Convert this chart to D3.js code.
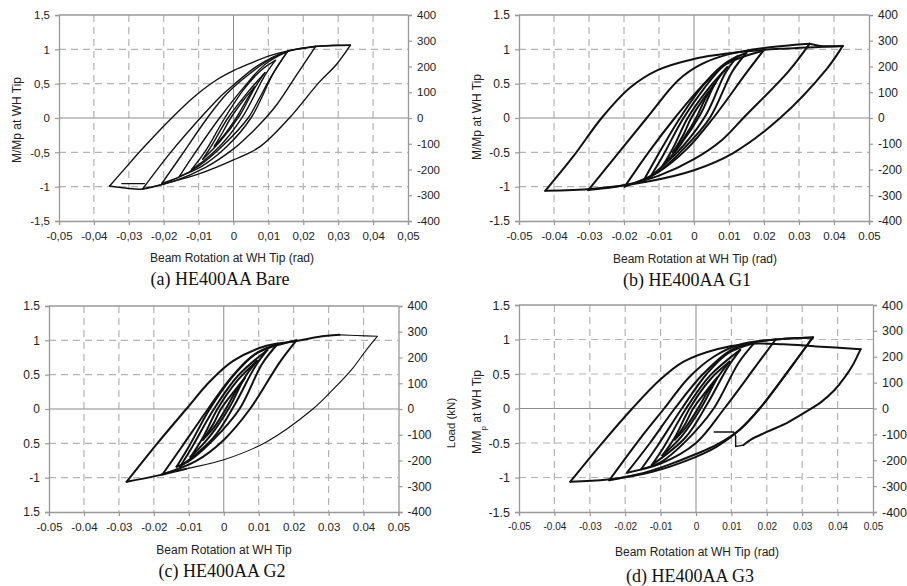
<!DOCTYPE html>
<html>
<head>
<meta charset="utf-8">
<script src="https://cdn.jsdelivr.net/npm/d3@7"></script>
<style>
body { margin: 0; background: #fff; }
text { font-family: "Liberation Sans", Arial, sans-serif; fill: #222; }
.caption { font-family: "Liberation Serif", "Times New Roman", serif; fill: #111; }
</style>
</head>
<body>
<script>

// tick values and labels
const xTicks = [-0.05, -0.04, -0.03, -0.02, -0.01, 0, 0.01, 0.02, 0.03, 0.04, 0.05];
const yTicks = [-1.5, -1, -0.5, 0, 0.5, 1, 1.5];
const loadTicks = [-400, -300, -200, -100, 0, 100, 200, 300, 400];
const xLabelsComma = ["-0,05", "-0,04", "-0,03", "-0,02", "-0,01", "0", "0,01", "0,02", "0,03", "0,04", "0,05"];
const xLabelsDot = ["-0.05", "-0.04", "-0.03", "-0.02", "-0.01", "0", "0.01", "0.02", "0.03", "0.04", "0.05"];
const yLabelsComma = ["-1,5", "-1", "-0,5", "0", "0,5", "1", "1,5"];
const yLabelsDot = ["-1.5", "-1", "-0.5", "0", "0.5", "1", "1.5"];
const yLabelsG2 = ["1.5", "-1", "0.5", "0", "0.5", "1", "1.5"];
const loadLabels = ["-400", "-300", "-200", "-100", "0", "100", "200", "300", "400"];

// hysteresis cycles: [beam rotation (rad), M/Mp]
const bareLoops = [
  [[0.006,0.45],[0.0035,0.24],[0.001,0.02],[-0.003,-0.27],[-0.0055,-0.41],[-0.003,-0.2],[-0.0008,0],[0.003,0.27],[0.006,0.45]],
  [[0.009,0.66],[0.006,0.43],[0.0018,0.04],[-0.004,-0.35],[-0.0088,-0.6],[-0.006,-0.38],[-0.0016,0],[0.004,0.37],[0.009,0.66]],
  [[0.012,0.84],[0.009,0.62],[0.003,0.05],[-0.003,-0.36],[-0.008,-0.6],[-0.012,-0.75],[-0.008,-0.48],[-0.0025,0],[0.003,0.42],[0.008,0.7],[0.012,0.84]],
  [[0.0155,0.97],[0.0115,0.66],[0.005,0],[-0.002,-0.42],[-0.009,-0.7],[-0.0155,-0.85],[-0.012,-0.58],[-0.004,0],[0.003,0.45],[0.009,0.78],[0.0155,0.97]],
  [[0.0155,0.97],[0.011,0.62],[0.0065,0.2],[0.0042,0],[-0.003,-0.4],[-0.01,-0.7],[-0.016,-0.87],[-0.0205,-0.95],[-0.015,-0.55],[-0.0075,0],[-0.002,0.35],[0.004,0.62],[0.011,0.87],[0.016,0.98],[0.0235,1.04]],
  [[0.0235,1.04],[0.018,0.62],[0.0125,0.2],[0.0092,0],[0.004,-0.27],[0,-0.45],[-0.008,-0.72],[-0.017,-0.92],[-0.026,-1.03],[-0.018,-0.5],[-0.0086,0.05],[-0.004,0.3],[0,0.48],[0.006,0.73],[0.011,0.88],[0.016,0.98],[0.0235,1.045]],
  [[0.0235,1.045],[0.0285,1.06],[0.0335,1.06],[0.0295,0.78],[0.0247,0.53],[0.016,0],[0.0075,-0.42],[0,-0.61],[-0.0097,-0.81],[-0.0193,-0.95],[-0.026,-1.035],[-0.031,-1.02],[-0.0355,-0.99],[-0.031,-0.73],[-0.0265,-0.47],[-0.0177,0],[-0.011,0.32],[-0.005,0.55],[0,0.69],[0.005,0.8],[0.01,0.9],[0.015,0.97],[0.0235,1.04],[0.0335,1.06]],
  [[-0.032,-0.955],[-0.0255,-0.955]]
];

const g1Loops = [
  [[0.006,0.5],[0.003,0.26],[0.0008,0.02],[-0.003,-0.3],[-0.006,-0.5],[-0.003,-0.24],[-0.0008,0],[0.003,0.3],[0.006,0.5]],
  [[0.0095,0.74],[0.006,0.5],[0.0018,0.05],[-0.004,-0.4],[-0.009,-0.7],[-0.006,-0.44],[-0.0018,0],[0.004,0.42],[0.0095,0.74]],
  [[0.0125,0.9],[0.009,0.66],[0.0035,0.05],[-0.003,-0.4],[-0.0125,-0.86],[-0.009,-0.56],[-0.003,0],[0.003,0.44],[0.008,0.74],[0.0125,0.9]],
  [[0.015,0.95],[0.011,0.68],[0.0045,0],[-0.003,-0.45],[-0.009,-0.74],[-0.0145,-0.92],[-0.011,-0.6],[-0.004,0],[0.003,0.5],[0.009,0.8],[0.015,0.95]],
  [[0.0198,0.98],[0.015,0.66],[0.0055,0],[-0.002,-0.45],[-0.01,-0.78],[-0.0198,-1.0],[-0.013,-0.5],[-0.0055,0],[0.002,0.45],[0.009,0.78],[0.0198,0.98]],
  [[0.033,1.08],[0.027,0.68],[0.0141,0],[0.008,-0.32],[0,-0.6],[-0.01,-0.84],[-0.02,-0.98],[-0.0302,-1.05],[-0.0135,0],[-0.0045,0.55],[0.002,0.78],[0.01,0.93],[0.02,1.02],[0.033,1.08]],
  [[0.033,1.08],[0.036,1.05],[0.0425,1.05],[0.038,0.72],[0.0246,0],[0.0112,-0.51],[0,-0.76],[-0.0128,-0.92],[-0.0288,-1.03],[-0.0425,-1.06],[-0.0345,-0.56],[-0.0264,0],[-0.0183,0.44],[-0.0107,0.69],[0,0.86],[0.013,0.96],[0.0255,1.01],[0.0425,1.05]]
];

const g2Loops = [
  [[0.006,0.45],[0.003,0.22],[0.0008,0.02],[-0.003,-0.28],[-0.006,-0.45],[-0.003,-0.22],[-0.0008,0],[0.003,0.26],[0.006,0.45]],
  [[0.0095,0.7],[0.006,0.46],[0.0018,0.04],[-0.004,-0.4],[-0.0095,-0.7],[-0.006,-0.42],[-0.0018,0],[0.004,0.42],[0.0095,0.7]],
  [[0.0125,0.86],[0.009,0.62],[0.003,0.05],[-0.003,-0.42],[-0.0125,-0.84],[-0.009,-0.55],[-0.0028,0],[0.004,0.48],[0.0125,0.86]],
  [[0.0155,0.95],[0.011,0.66],[0.0045,0],[-0.003,-0.45],[-0.01,-0.76],[-0.0135,-0.84],[-0.01,-0.55],[-0.004,0],[0.003,0.5],[0.009,0.8],[0.0155,0.95]],
  [[0.0208,1.0],[0.016,0.68],[0.0075,0],[0,-0.45],[-0.008,-0.76],[-0.0175,-0.95],[-0.012,-0.55],[-0.0045,0],[0.002,0.45],[0.009,0.8],[0.0208,1.0]],
  [[-0.0107,-0.87],[-0.019,-0.97],[-0.0278,-1.06],[-0.019,-0.5],[-0.0107,0],[-0.004,0.4],[0.0027,0.7],[0.0122,0.92],[0.0208,0.99],[0.027,1.05],[0.0331,1.08]]
];
const g2Last = [[0.0331,1.08],[0.038,1.07],[0.044,1.06],[0.0405,0.84],[0.037,0.6],[0.031,0.27],[0.0255,0],[0.0122,-0.48],[0,-0.74],[-0.0107,-0.87],[-0.018,-0.95]];

const g3Loops = [
  [[0.006,0.45],[0.003,0.22],[0.0008,0.02],[-0.003,-0.28],[-0.006,-0.45],[-0.003,-0.22],[-0.0008,0],[0.003,0.26],[0.006,0.45]],
  [[0.0095,0.68],[0.006,0.44],[0.0018,0.04],[-0.004,-0.4],[-0.0095,-0.68],[-0.006,-0.42],[-0.0018,0],[0.004,0.42],[0.0095,0.68]],
  [[0.0125,0.85],[0.009,0.6],[0.003,0.05],[-0.003,-0.42],[-0.0125,-0.82],[-0.009,-0.55],[-0.0028,0],[0.004,0.48],[0.0125,0.85]],
  [[0.0165,0.95],[0.012,0.66],[0.005,0],[-0.003,-0.48],[-0.01,-0.78],[-0.0155,-0.88],[-0.011,-0.55],[-0.004,0],[0.003,0.5],[0.009,0.8],[0.0165,0.95]],
  [[0.0225,1.0],[0.017,0.62],[0.008,0],[0,-0.5],[-0.01,-0.8],[-0.0195,-0.93],[-0.013,-0.5],[-0.006,0],[0.002,0.5],[0.01,0.85],[0.0165,0.96],[0.0225,1.0]],
  [[0.0225,1.0],[0.028,1.02],[0.033,1.03],[0.029,0.75],[0.024,0.4],[0.018,0],[0.0125,-0.3],[0.006,-0.52],[0,-0.66],[-0.008,-0.82],[-0.016,-0.95],[-0.0245,-1.04],[-0.016,-0.45],[-0.009,0],[-0.002,0.45],[0.005,0.75],[0.012,0.92],[0.02,0.99],[0.033,1.03]],
  [[0.033,1.03],[0.029,0.75],[0.024,0.4],[0.018,0],[0.0125,-0.3],[0.006,-0.55],[0,-0.7],[-0.0126,-0.92],[-0.025,-1.03],[-0.0355,-1.06],[-0.027,-0.53],[-0.018,0],[-0.0101,0.42],[-0.0035,0.68],[0.0059,0.86],[0.0153,0.94],[0.0247,0.93],[0.034,0.9],[0.0465,0.86],[0.0445,0.65],[0.042,0.45],[0.039,0.26],[0.0355,0.1],[0.031,-0.05],[0.026,-0.2],[0.02,-0.34],[0.0155,-0.45],[0.0134,-0.53]]
];
// final drop after the last unloading
const g3Drop = [[0.0134,-0.53],[0.0112,-0.55],[0.0112,-0.4],[0.0106,-0.34],[0.005,-0.34]];

const svg = d3.select("body").append("svg")
    .attr("width", 907)
    .attr("height", 586);

const panels = [
  { loops: bareLoops, extra: [], box: {l: 59, r: 408, t: 15, b: 221}, width: 1.4,
    xLab: xLabelsComma, yLab: yLabelsComma, xFont: 11.5, yFont: 11.5,
    xTitle: {x: 232, y: 262, text: "Beam Rotation at WH Tip (rad)"},
    yTitle: {x: 17, y: 120, text: "M/Mp at WH Tip"},
    caption: {x: 220, y: 285, text: "(a) HE400AA Bare"} },
  { loops: g1Loops, extra: [], box: {l: 519, r: 869, t: 15, b: 221}, width: 2,
    xLab: xLabelsDot, yLab: yLabelsDot, xFont: 11.5, yFont: 12,
    xTitle: {x: 695, y: 263, text: "Beam Rotation at WH Tip (rad)"},
    yTitle: {x: 477, y: 117, text: "M/Mp at WH Tip"},
    caption: {x: 687, y: 286, text: "(b) HE400AA G1"} },
  { loops: g2Loops, extra: [g2Last], box: {l: 49, r: 398.5, t: 306, b: 512}, width: 2,
    xLab: xLabelsDot, yLab: yLabelsG2, xFont: 11.5, yFont: 12,
    xTitle: {x: 224, y: 554, text: "Beam Rotation at WH Tip"},
    rTitle: {x: 451, y: 423, text: "Load (kN)"},
    caption: {x: 222, y: 577, text: "(c) HE400AA G2"} },
  { loops: g3Loops, extra: [g3Drop], box: {l: 519, r: 873, t: 305, b: 512}, width: 2,
    xLab: xLabelsDot, yLab: yLabelsDot, xFont: 10, yFont: 12.5,
    xTitle: {x: 697, y: 556, text: "Beam Rotation at WH Tip (rad)"},
    yTitle: {x: 477, y: 412, text: "M/M", sub: "p", rest: " at WH Tip"},
    caption: {x: 690, y: 582, text: "(d) HE400AA G3"} }
];

// cut a cycle into its loading / unloading branches at each reversal of rotation
function branches(pts) {
  const out = [];
  let cur = [pts[0]], dir = 0;
  for (let i = 1; i < pts.length; i++) {
    const s = Math.sign(pts[i][0] - pts[i - 1][0]);
    if (dir !== 0 && s !== 0 && s !== dir) {
      out.push(cur);
      cur = [pts[i - 1]];
    }
    if (s !== 0) dir = s;
    cur.push(pts[i]);
  }
  out.push(cur);
  return out;
}

function drawPanel(p) {
  const g = svg.append("g");
  const x = d3.scaleLinear().domain([-0.05, 0.05]).range([p.box.l, p.box.r]);
  const y = d3.scaleLinear().domain([-1.5, 1.5]).range([p.box.b, p.box.t]);
  const yLoad = d3.scaleLinear().domain([-400, 400]).range([p.box.b, p.box.t]);

  // dashed grid
  g.selectAll(".vgrid").data(xTicks.filter(d => Math.abs(d) > 1e-9 && Math.abs(d) < 0.049))
    .enter().append("line")
    .attr("x1", d => x(d)).attr("x2", d => x(d))
    .attr("y1", p.box.t).attr("y2", p.box.b)
    .attr("stroke", "#b3b3b3").attr("stroke-width", 1.2).attr("stroke-dasharray", "7,5");
  g.selectAll(".hgrid").data([-1, -0.5, 0.5, 1])
    .enter().append("line")
    .attr("x1", p.box.l).attr("x2", p.box.r)
    .attr("y1", d => y(d)).attr("y2", d => y(d))
    .attr("stroke", "#b3b3b3").attr("stroke-width", 1.2).attr("stroke-dasharray", "7,5");

  // zero lines
  g.append("line").attr("x1", x(0)).attr("x2", x(0)).attr("y1", p.box.t).attr("y2", p.box.b)
    .attr("stroke", "#8c8c8c").attr("stroke-width", 1);
  g.append("line").attr("x1", p.box.l).attr("x2", p.box.r).attr("y1", y(0)).attr("y2", y(0))
    .attr("stroke", "#8c8c8c").attr("stroke-width", 1);

  // axes
  const ax = g.append("g").attr("transform", "translate(0," + p.box.b + ")")
    .call(d3.axisBottom(x).tickValues(xTicks).tickFormat((d, i) => p.xLab[i]).tickSizeOuter(0).tickSize(4).tickPadding(7));
  const ay = g.append("g").attr("transform", "translate(" + p.box.l + ",0)")
    .call(d3.axisLeft(y).tickValues(yTicks).tickFormat((d, i) => p.yLab[i]).tickSizeOuter(0).tickSize(4).tickPadding(5));
  const ar = g.append("g").attr("transform", "translate(" + p.box.r + ",0)")
    .call(d3.axisRight(yLoad).tickValues(loadTicks).tickFormat((d, i) => loadLabels[i]).tickSizeOuter(0).tickSize(4).tickPadding(5));
  [ax, ay, ar].forEach(a => {
    a.selectAll("path").attr("stroke", "#999").attr("stroke-width", 1.3);
    a.selectAll("line").attr("stroke", "#999").attr("stroke-width", 1.2);
    a.selectAll("text").attr("fill", "#222").style("font-family", '"Liberation Sans", Arial, sans-serif');
  });
  ax.selectAll("text").style("font-size", p.xFont + "px");
  ay.selectAll("text").style("font-size", p.yFont + "px");
  ar.selectAll("text").style("font-size", p.yFont + "px");

  // top border
  g.append("line").attr("x1", p.box.l).attr("x2", p.box.r).attr("y1", p.box.t).attr("y2", p.box.t)
    .attr("stroke", "#999").attr("stroke-width", 1.3);

  // curves, one smooth path per loading / unloading branch
  const line = d3.line().x(d => x(d[0])).y(d => y(d[1])).curve(d3.curveCatmullRom.alpha(0.5));
  const segs = p.loops.flatMap(branches);
  g.selectAll(".loop").data(segs).enter().append("path")
    .attr("d", line).attr("fill", "none").attr("stroke", "#111")
    .attr("stroke-width", p.width).attr("stroke-linejoin", "round").attr("stroke-linecap", "round");
  const lin = d3.line().x(d => x(d[0])).y(d => y(d[1]));
  p.extra.forEach(e => {
    const stepped = e.length <= 5;
    const parts = stepped ? [e] : branches(e);
    g.selectAll(null).data(parts).enter().append("path")
      .attr("d", stepped ? lin : line).attr("fill", "none").attr("stroke", "#111")
      .attr("stroke-width", stepped ? 1.4 : 1.1);
  });

  // titles
  g.append("text").attr("x", p.xTitle.x).attr("y", p.xTitle.y)
    .attr("text-anchor", "middle").style("font-size", "12px").text(p.xTitle.text);
  if (p.yTitle) {
    const t = g.append("text")
      .attr("transform", "translate(" + p.yTitle.x + "," + p.yTitle.y + ") rotate(-90)")
      .attr("text-anchor", "middle").attr("dy", "0.35em").style("font-size", "12px");
    t.append("tspan").text(p.yTitle.text);
    if (p.yTitle.sub) {
      t.append("tspan").attr("baseline-shift", "sub").style("font-size", "8px").text(p.yTitle.sub);
      t.append("tspan").text(p.yTitle.rest);
    }
  }
  if (p.rTitle) {
    g.append("text")
      .attr("transform", "translate(" + p.rTitle.x + "," + p.rTitle.y + ") rotate(-90)")
      .attr("text-anchor", "middle").attr("dy", "0.35em").style("font-size", "11.5px").text(p.rTitle.text);
  }
  g.append("text").attr("class", "caption").attr("x", p.caption.x).attr("y", p.caption.y)
    .attr("text-anchor", "middle").style("font-size", "18px").text(p.caption.text);
}

panels.forEach(drawPanel);

</script>
</body>
</html>
